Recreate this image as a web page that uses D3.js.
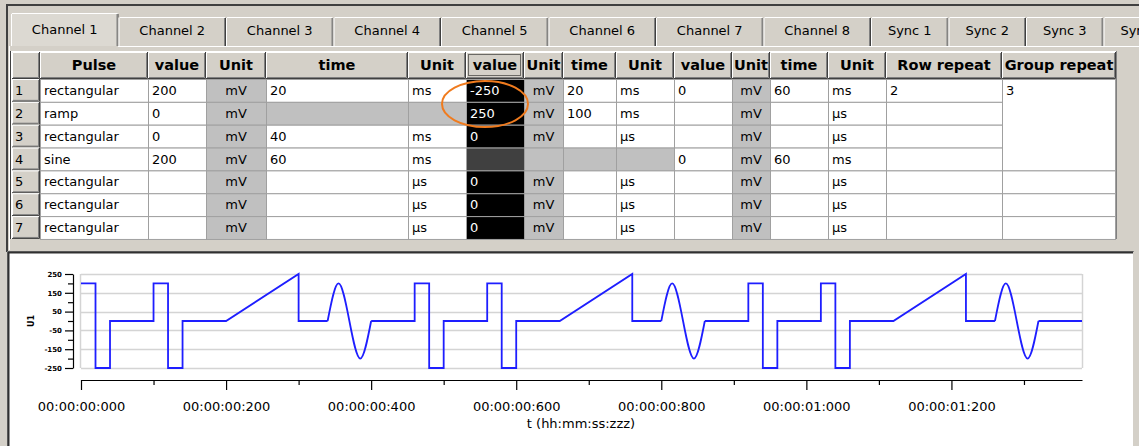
<!DOCTYPE html>
<html>
<head>
<meta charset="utf-8">
<script src="https://cdn.jsdelivr.net/npm/d3@7"></script>
<style>
  body { margin: 0; background: #d4d0c8; overflow: hidden; }
  svg { display: block; font-family: "DejaVu Sans", sans-serif; }
</style>
</head>
<body>
<svg id="app" width="1139" height="446"></svg>
<script>
const tabNames = ['Channel 1', 'Channel 2', 'Channel 3', 'Channel 4', 'Channel 5', 'Channel 6',
  'Channel 7', 'Channel 8', 'Sync 1', 'Sync 2', 'Sync 3', 'Sync 4'];

const columnHeaders = ['Pulse', 'value', 'Unit', 'time', 'Unit', 'value', 'Unit', 'time', 'Unit',
  'value', 'Unit', 'time', 'Unit', 'Row repeat', 'Group repeat'];

const rowNumbers = ['1', '2', '3', '4', '5', '6', '7'];
const pulseTypes = ['rectangular', 'ramp', 'rectangular', 'sine', 'rectangular', 'rectangular', 'rectangular'];
const value1 = ['200', '0', '0', '200', '', '', ''];
const unit1 = ['mV', 'mV', 'mV', 'mV', 'mV', 'mV', 'mV'];
const time1 = ['20', '', '40', '60', '', '', ''];
const timeUnit1 = ['ms', '', 'ms', 'ms', 'µs', 'µs', 'µs'];
const value2 = ['-250', '250', '0', '', '0', '0', '0'];
const unit2 = ['mV', 'mV', 'mV', '', 'mV', 'mV', 'mV'];
const time2 = ['20', '100', '', '', '', '', ''];
const timeUnit2 = ['ms', 'ms', 'µs', '', 'µs', 'µs', 'µs'];
const value3 = ['0', '', '', '0', '', '', ''];
const unit3 = ['mV', 'mV', 'mV', 'mV', 'mV', 'mV', 'mV'];
const time3 = ['60', '', '', '60', '', '', ''];
const timeUnit3 = ['ms', 'µs', 'µs', 'ms', 'µs', 'µs', 'µs'];
const rowRepeat = ['2', '', '', '', '', '', ''];
const groupRepeat = ['3', '', '', ''];   // une cellule pour le groupe (lignes 1-4), puis lignes 5-7

// forme d'onde d'un groupe (ms, mV)
const stepTimes = [0, 20, 20, 40, 40, 100, 100, 120, 120, 140, 140, 200, 300, 300, 340];
const stepValues = [200, 200, -250, -250, 0, 0, 200, 200, -250, -250, 0, 0, 250, 0, 0];
const sineTimes = [340, 355, 370, 385, 400];
const sineValues = [0, 200, 0, -200, 0];
const tailTimes = [400, 460];
const tailValues = [0, 0];
const groupLength = 460;
const groupCount = 3;

const yTicks = [250, 150, 50, -50, -150, -250];
const yTickLabels = ['250', '150', '50', '-50', '-150', '-250'];
const yMinorTicks = [200, 100, 0, -100, -200];
const xTicks = [0, 200, 400, 600, 800, 1000, 1200];
const xTickLabels = ['00:00:00:000', '00:00:00:200', '00:00:00:400', '00:00:00:600',
  '00:00:00:800', '00:00:01:000', '00:00:01:200'];
const xMinorTicks = [100, 300, 500, 700, 900, 1100, 1300];

// ---- dessin ----
const svg = d3.select('#app');
const FACE = '#d4d0c8';

// cadre de la fenêtre
svg.append('rect').attr('x', 0).attr('y', 0).attr('width', 1139).attr('height', 446).attr('fill', FACE);
svg.append('rect').attr('x', 6).attr('y', 4).attr('width', 1133).attr('height', 2).attr('fill', '#404040');
svg.append('rect').attr('x', 6).attr('y', 4).attr('width', 2).attr('height', 248).attr('fill', '#404040');

// onglets
const tabs = svg.append('g');
let tx = 11;
tabNames.forEach((name, i) => {
  const w = name.startsWith('Sync') ? 77.5 : 107.5;
  const active = i === 0;
  const y0 = active ? 13 : 17;
  const y1 = 46;
  const g = tabs.append('g');
  g.append('rect').attr('x', tx).attr('y', y0).attr('width', w).attr('height', y1 - y0)
    .attr('fill', active ? '#dcd9d2' : FACE);
  g.append('line').attr('x1', tx + 0.5).attr('x2', tx + 0.5).attr('y1', y0 + 1).attr('y2', y1)
    .attr('stroke', '#fff');
  g.append('line').attr('x1', tx + 1).attr('x2', tx + w - 1).attr('y1', y0 + 0.5).attr('y2', y0 + 0.5)
    .attr('stroke', '#fff');
  g.append('line').attr('x1', tx + w - 0.5).attr('x2', tx + w - 0.5).attr('y1', y0 + 1).attr('y2', y1)
    .attr('stroke', '#404040');
  g.append('line').attr('x1', tx + w - 1.5).attr('x2', tx + w - 1.5).attr('y1', y0 + 1).attr('y2', y1)
    .attr('stroke', '#808080');
  g.append('text').attr('x', tx + w / 2).attr('y', active ? 34 : 35).attr('text-anchor', 'middle')
    .attr('font-size', 13).attr('fill', '#000').text(name);
  tx += w;
});
// ligne haute de la page d'onglet
svg.append('line').attr('x1', 118).attr('x2', 1139).attr('y1', 46.5).attr('y2', 46.5).attr('stroke', '#fff');
svg.append('line').attr('x1', 9.5).attr('x2', 9.5).attr('y1', 46).attr('y2', 250).attr('stroke', '#fff');

// tableau
const colX = [12, 40, 148, 206, 266, 408, 466, 524, 563, 616, 674, 732, 770, 828, 886, 1002, 1116];
const headTop = 52, headBottom = 79, rowH = 22.85;
const columns = [pulseTypes, value1, unit1, time1, timeUnit1, value2, unit2, time2, timeUnit2,
  value3, unit3, time3, timeUnit3, rowRepeat];
const grayCols = [2, 6, 10];
const selectedCol = 5;
const disabled = { 1: [3, 4], 3: [6, 7, 8] };

const table = svg.append('g');
table.append('rect').attr('x', 10).attr('y', 51).attr('width', 1106).attr('height', 188).attr('fill', '#fff');

function raised(g, x, y, w, h) {
  g.append('rect').attr('x', x).attr('y', y).attr('width', w).attr('height', h).attr('fill', FACE);
  g.append('path').attr('d', `M${x + 0.5},${y + h - 1}V${y + 0.5}H${x + w - 1}`).attr('stroke', '#fff').attr('fill', 'none');
  g.append('path').attr('d', `M${x + 1},${y + h - 1.5}H${x + w - 1.5}V${y + 1}`).attr('stroke', '#808080').attr('fill', 'none');
  g.append('path').attr('d', `M${x},${y + h - 0.5}H${x + w - 0.5}V${y}`).attr('stroke', '#404040').attr('fill', 'none');
}

// en-têtes
raised(table, colX[0], headTop, colX[1] - colX[0], headBottom - headTop);
columnHeaders.forEach((h, c) => {
  const x0 = colX[c + 1], x1 = colX[c + 2];
  raised(table, x0, headTop, x1 - x0, headBottom - headTop);
  table.append('text').attr('x', (x0 + x1) / 2).attr('y', headTop + 18).attr('text-anchor', 'middle')
    .attr('font-size', 14.5).attr('font-weight', 'bold').text(h);
  if (c === selectedCol) {
    table.append('rect').attr('x', x0 + 2.5).attr('y', headTop + 2.5).attr('width', x1 - x0 - 6).attr('height', headBottom - headTop - 6)
      .attr('fill', 'none').attr('stroke', '#000').attr('stroke-dasharray', '1,1');
  }
});

// lignes
rowNumbers.forEach((num, r) => {
  const y0 = headBottom + r * rowH;
  raised(table, colX[0], y0, colX[1] - colX[0], rowH);
  table.append('text').attr('x', colX[0] + 3).attr('y', y0 + 16).attr('font-size', 13).text(num);
  columns.forEach((col, c) => {
    const x0 = colX[c + 1], x1 = colX[c + 2];
    let fill = '#fff', color = '#000';
    if (grayCols.includes(c)) fill = '#c0c0c0';
    if (c === selectedCol) { fill = '#000'; color = '#fff'; }
    if (disabled[r] && disabled[r].includes(c)) fill = '#c0c0c0';
    if (r === 3 && c === selectedCol) fill = '#404040';
    table.append('rect').attr('x', x0 + 0.5).attr('y', y0 + 0.5).attr('width', x1 - x0).attr('height', rowH)
      .attr('fill', fill).attr('stroke', '#a0a0a0');
    const center = grayCols.includes(c);
    table.append('text').attr('x', center ? (x0 + x1) / 2 : x0 + 4).attr('y', y0 + 16)
      .attr('text-anchor', center ? 'middle' : 'start').attr('font-size', 13).attr('fill', color)
      .text(col[r]);
  });
});
// colonne Group repeat : groupe fusionné puis lignes 5-7
{
  const x0 = colX[15], x1 = colX[16];
  const spans = [[0, 4], [4, 5], [5, 6], [6, 7]];
  spans.forEach(([a, b], i) => {
    const y0 = headBottom + a * rowH;
    table.append('rect').attr('x', x0 + 0.5).attr('y', y0 + 0.5).attr('width', x1 - x0 - 1).attr('height', (b - a) * rowH)
      .attr('fill', '#fff').attr('stroke', '#a0a0a0');
    table.append('text').attr('x', x0 + 4).attr('y', y0 + 16).attr('font-size', 13).text(groupRepeat[i]);
  });
}
table.append('line').attr('x1', 10.5).attr('x2', 10.5).attr('y1', 51).attr('y2', 239).attr('stroke', '#404040');
table.append('line').attr('x1', 1116.5).attr('x2', 1116.5).attr('y1', 51).attr('y2', 239).attr('stroke', '#808080');

// ellipse orange
svg.append('ellipse').attr('cx', 485).attr('cy', 104).attr('rx', 43).attr('ry', 23)
  .attr('fill', 'none').attr('stroke', '#f07b1e').attr('stroke-width', 2);

// panneau du graphique
const panel = svg.append('g');
panel.append('rect').attr('x', 7).attr('y', 251).attr('width', 1127).attr('height', 195).attr('fill', '#fff');
panel.append('path').attr('d', 'M7.5,446V251.5H1134').attr('stroke', '#808080').attr('fill', 'none');
panel.append('path').attr('d', 'M8.5,446V252.5H1133').attr('stroke', '#303030').attr('stroke-width', 2).attr('fill', 'none');
panel.append('line').attr('x1', 1133.5).attr('x2', 1133.5).attr('y1', 252).attr('y2', 446).attr('stroke', '#d4d0c8');

const x = d3.scaleLinear().domain([0, groupLength * groupCount]).range([81, 1082]);
const y = d3.scaleLinear().domain([-250, 250]).range([368, 274]);

const chart = svg.append('g');
// quadrillage
chart.append('g').selectAll('line').data(yTicks).join('line')
  .attr('x1', x(0)).attr('x2', x(groupLength * groupCount))
  .attr('y1', d => Math.round(y(d)) + 0.5).attr('y2', d => Math.round(y(d)) + 0.5)
  .attr('stroke', '#d4d4d4').attr('stroke-width', 1.5);
chart.append('line').attr('x1', x(0) - 0.5).attr('x2', x(0) - 0.5).attr('y1', y(250)).attr('y2', y(-250))
  .attr('stroke', '#d4d4d4').attr('stroke-width', 1.5);
chart.append('line').attr('x1', x(1380) + 0.5).attr('x2', x(1380) + 0.5).attr('y1', y(250)).attr('y2', y(-250))
  .attr('stroke', '#d4d4d4').attr('stroke-width', 1.5);

// axe Y
const yAxis = chart.append('g').attr('transform', 'translate(73,0)')
  .call(d3.axisLeft(y).tickValues(yTicks).tickSize(8).tickSizeOuter(0).tickFormat((d, i) => yTickLabels[i]));
chart.append('g').attr('transform', 'translate(73,0)')
  .call(d3.axisLeft(y).tickValues(yMinorTicks).tickSize(5).tickSizeOuter(0).tickFormat(''))
  .select('.domain').remove();
yAxis.selectAll('text').attr('font-family', '"DejaVu Sans", sans-serif').attr('font-size', 7)
  .attr('font-weight', 'bold').attr('x', -11);
chart.selectAll('.tick line, .domain').attr('stroke', '#000').attr('stroke-width', 1.5);
chart.append('text').attr('transform', 'translate(34,321) rotate(-90)').attr('text-anchor', 'middle')
  .attr('font-size', 8).attr('font-weight', 'bold').text('U1');

// axe X
const xAxis = chart.append('g').attr('transform', 'translate(0,380)')
  .call(d3.axisBottom(x).tickValues(xTicks).tickSize(10).tickSizeOuter(0).tickFormat((d, i) => xTickLabels[i]));
const xMinor = chart.append('g').attr('transform', 'translate(0,380)')
  .call(d3.axisBottom(x).tickValues(xMinorTicks).tickSize(5).tickSizeOuter(0).tickFormat(''));
xMinor.select('.domain').remove();
xAxis.selectAll('text').attr('font-family', '"DejaVu Sans", sans-serif').attr('font-size', 13)
  .attr('fill', '#000').attr('y', 22);
chart.selectAll('.tick line, .domain').attr('stroke', '#000').attr('stroke-width', 1.2);
chart.append('text').attr('x', 581).attr('y', 428).attr('text-anchor', 'middle').attr('font-size', 13)
  .text('t (hh:mm:ss:zzz)');

// forme d'onde : les paliers de chaque groupe sont reliés à la fin du groupe précédent
const line = d3.line().x(d => x(d[0])).y(d => y(d[1]));
const sineLine = d3.line().x(d => x(d[0])).y(d => y(d[1])).curve(d3.curveNatural);
const wave = chart.append('g').attr('fill', 'none').attr('stroke', '#1e1eff')
  .attr('stroke-width', 1.8).attr('stroke-linejoin', 'miter');
let pending = [];
d3.range(groupCount).forEach(g => {
  const off = g * groupLength;
  const steps = stepTimes.map((t, i) => [t + off, stepValues[i]]);
  wave.append('path').attr('d', line(pending.concat(steps)));
  wave.append('path').attr('d', sineLine(sineTimes.map((t, i) => [t + off, sineValues[i]])));
  pending = tailTimes.map((t, i) => [t + off, tailValues[i]]);
});
wave.append('path').attr('d', line(pending));
</script>
</body>
</html>
